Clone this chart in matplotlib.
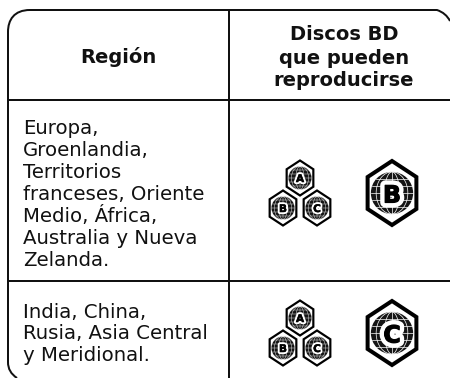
#!/usr/bin/env python3
# Blu-ray region table, drawn in pixel coordinates of the 450x378 picture.
import matplotlib
matplotlib.use("Agg")
import matplotlib.pyplot as plt
import matplotlib.patheffects as pe
import numpy as np
from matplotlib.patches import Circle, Ellipse, PathPatch, Polygon
from matplotlib.path import Path

header_region = "Región"
header_discs = ["Discos BD", "que pueden", "reproducirse"]
row1_lines = ["Europa,", "Groenlandia,", "Territorios", "franceses, Oriente",
              "Medio, África,", "Australia y Nueva", "Zelanda."]
row2_lines = ["India, China,", "Rusia, Asia Central", "y Meridional."]
small_letters = ["A", "B", "C"]
row_letters = ["B", "C"]

INK = "#111111"
PX = 0.72  # one pixel in points at dpi 100

fig = plt.figure(figsize=(4.5, 3.78), dpi=100)
ax = fig.add_axes([0, 0, 1, 1])
ax.set_xlim(0, 450)
ax.set_ylim(378, 0)
ax.axis("off")

# outer frame with rounded corners, open at the right and bottom edge
verts = [(450, 21), (446, 13), (437, 10), (30, 10), (14, 10), (8, 20), (8, 32),
         (8, 362), (8, 369), (11, 374), (17, 378)]
codes = [Path.MOVETO, Path.CURVE3, Path.CURVE3, Path.LINETO, Path.CURVE4,
         Path.CURVE4, Path.CURVE4, Path.LINETO, Path.CURVE4, Path.CURVE4, Path.CURVE4]
ax.add_patch(PathPatch(Path(verts, codes), fc="none", ec=INK, lw=2 * PX))
ax.plot([229, 229], [10, 378], color=INK, lw=2 * PX)
ax.plot([8, 450], [100, 100], color=INK, lw=2 * PX)
ax.plot([8, 450], [281, 281], color=INK, lw=2 * PX)

ax.text(118, 57, header_region, ha="center", va="center", fontsize=14,
        fontweight="bold", color=INK)
for y, line in zip([35, 58, 80], header_discs):
    ax.text(344, y, line, ha="center", va="center", fontsize=14,
            fontweight="bold", color=INK)

for i, line in enumerate(row1_lines):
    ax.text(23, 128 + i * 22, line, ha="left", va="center", fontsize=14.2, color=INK)
for i, line in enumerate(row2_lines):
    ax.text(23, 312 + i * 21.7, line, ha="left", va="center", fontsize=14.2, color=INK)


def badge(cx, cy, r, letter, fs):
    t = np.radians(np.arange(90, 450, 60))
    pts = np.c_[cx + r * 0.88 * np.cos(t), cy + r * np.sin(t)]
    ax.add_patch(Polygon(pts, closed=True, fc="white", ec="black",
                         lw=r * 0.125 * PX, joinstyle="miter"))
    gr = r * 0.66
    ax.add_patch(Circle((cx, cy), gr, fc="#151515", ec="none"))
    # meridians and parallels of the globe
    lw = 0.3 if r < 20 else 0.5
    for w in [0.35, 0.75]:
        ax.add_patch(Ellipse((cx, cy), 2 * gr * w, 2 * gr, fc="none", ec="white", lw=lw))
    ax.plot([cx, cx], [cy - gr, cy + gr], color="white", lw=lw)
    for f in [-0.66, -0.33, 0, 0.33, 0.66]:
        h = gr * np.sqrt(1 - f * f)
        ax.plot([cx - h, cx + h], [cy + f * gr] * 2, color="white", lw=lw)
    # blocky letter: white halo, then a thin black stroke to fatten it
    ax.text(cx, cy, letter, ha="center", va="center_baseline", fontsize=fs,
            fontweight="bold", color="black",
            path_effects=[pe.Stroke(linewidth=fs * 0.42, foreground="white"),
                          pe.Stroke(linewidth=fs * 0.05, foreground="black"),
                          pe.Normal()])


for row_cy, big in zip([193, 333], row_letters):
    offsets = [(300, -15), (283, 15), (317, 15)]
    for (sx, dy), letter in zip(offsets, small_letters):
        badge(sx, row_cy + dy, 17.5, letter, 7.5)
    badge(392, row_cy, 32, big, 17)

fig.savefig("out.png", dpi=100, facecolor="white")
